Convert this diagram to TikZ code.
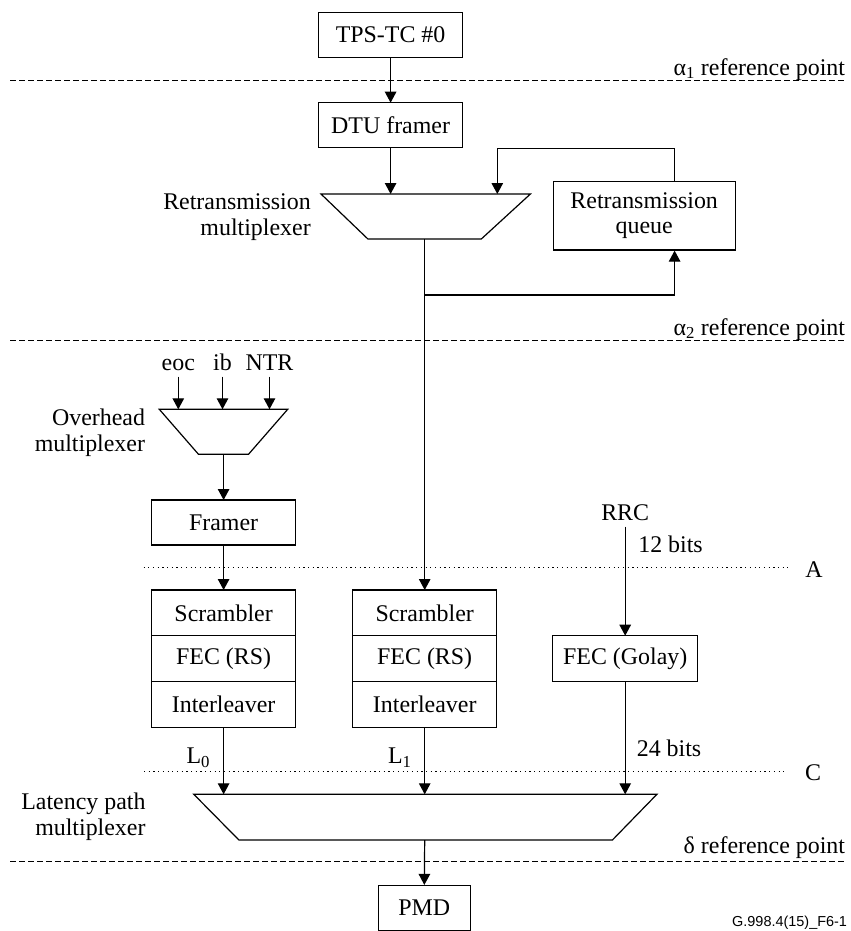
\documentclass[tikz,border=0pt]{standalone}
\usepackage{fontspec}
\setmainfont{Liberation Serif}
\newfontfamily\figsans{Liberation Sans}
\usetikzlibrary{arrows.meta}
\begin{document}
\begin{tikzpicture}[x=1bp,y=-1bp,
  line width=1.2bp,
  font=\fontsize{24}{25.5}\selectfont,
  box/.style={draw, minimum width=144bp, minimum height=45.7bp, inner sep=0pt, outer sep=0pt},
  arr/.style={-{Triangle[length=11bp,width=11.5bp]}},
  refline/.style={dash pattern=on 5.5bp off 3.5bp},
  dotline/.style={line width=1.1bp, dash pattern=on 1.2bp off 3.5bp},
  lbl/.style={inner sep=0pt, outer sep=0pt},
  mux/.style={draw, line join=miter}
]
\useasboundingbox (0,0) rectangle (851,931);

% ---- top part
\node[box, minimum height=45bp] (tps) at (390.6,34.8) {TPS-TC \#0};
\draw[refline] (10,80.7) -- (846,80.7);
\node[lbl, anchor=base east] (a1) at (845,75) {α\textsubscript{1} reference point};
\node[box, minimum height=45bp] (dtu) at (390.6,125.2) {DTU framer};
\draw[arr] (tps) -- (dtu);

% retransmission multiplexer
\coordinate (rmTL) at (321,194);
\coordinate (rmTR) at (530.4,194);
\coordinate (rmBR) at (481.3,239);
\coordinate (rmBL) at (367.9,239);
\coordinate (rmout) at (424.7,239);
\draw[mux] (rmTL) -- (rmTR) -- (rmBR) -- (rmBL) -- cycle;
\node[lbl, align=right, anchor=base east] (rmlbl) at (310.7,235) {Retransmission\\multiplexer};
\draw[arr] (dtu.south) -- (dtu.south |- rmTL);

% retransmission queue
\node[draw, minimum width=182bp, minimum height=68.3bp, inner sep=0pt, align=center] (queue) at (644.2,215.85) {Retransmission\\queue};
\coordinate (fbtop) at (674.6,148.3);
\coordinate (fbin) at (497.3,194);
\draw[arr] (queue.north -| fbtop) -- (fbtop) -| (fbin);
\coordinate (br) at (424.7,295);
\draw[arr] (br) -| (queue.south -| fbtop);

\draw[refline] (10,340.7) -- (846,340.7);
\node[lbl, anchor=base east] (a2) at (845,335) {α\textsubscript{2} reference point};

% ---- overhead
\node[lbl, anchor=base] (eoc) at (178.3,370) {eoc};
\node[lbl, anchor=base] (ib) at (222.5,370) {ib};
\node[lbl, anchor=base] (ntr) at (269.5,370) {NTR};
\coordinate (omTL) at (159.3,409.3);
\coordinate (omTR) at (287.7,409.3);
\coordinate (omBR) at (248.5,454.3);
\coordinate (omBL) at (198.5,454.3);
\coordinate (omout) at (223.6,454.3);
\draw[mux] (omTL) -- (omTR) -- (omBR) -- (omBL) -- cycle;
\draw[arr] ([yshift=-6.7bp]eoc.base) -- (eoc.base |- omTL);
\draw[arr] ([yshift=-6.7bp]ib.base) -- (ib.base |- omTL);
\draw[arr] ([yshift=-6.7bp]ntr.base) -- (ntr.base |- omTL);
\node[lbl, align=right, anchor=base east] (omlbl) at (145,451) {Overhead\\multiplexer};

\node[box, minimum height=45bp] (framer) at (223.6,522.5) {Framer};
\draw[arr] (omout) -- (framer.north);

% reference A
\draw[dotline] (143.5,567.7) -- (788,567.7);
\node[lbl, anchor=base] (alab) at (814,577) {A};

% ---- stacks
\node[box] (lscr) at (223.6,612.85) {Scrambler};
\node[box] (lfec) at (223.6,658.55) {FEC (RS)};
\node[box] (lint) at (223.6,704.25) {Interleaver};
\node[box] (mscr) at (424.7,612.85) {Scrambler};
\node[box] (mfec) at (424.7,658.55) {FEC (RS)};
\node[box] (mint) at (424.7,704.25) {Interleaver};
\node[box, minimum width=145bp] (golay) at (625.2,658.55) {FEC (Golay)};

\draw[arr] (framer.south) -- (lscr.north);
\draw (rmout) -- (br);
\draw[arr] (br) -- (mscr.north);

\node[lbl, anchor=base] (rrc) at (625.2,520) {RRC};
\node[lbl, anchor=base west] (b12) at (638.3,552.7) {12 bits};
\draw[arr] ([yshift=-6.7bp]rrc.base) -- (golay.north);

% reference C
\draw[dotline] (144,771.7) -- (787,771.7);
\node[lbl, anchor=base] (clab) at (813,780) {C};

% ---- latency path multiplexer
\coordinate (lmTL) at (193.8,794.3);
\coordinate (lmTR) at (656.9,794.3);
\coordinate (lmBR) at (612.4,840);
\coordinate (lmBL) at (238.9,840);
\coordinate (lmout) at (424.7,840);
\draw[mux] (lmTL) -- (lmTR) -- (lmBR) -- (lmBL) -- cycle;
\draw[arr] (lint.south) -- (lint.south |- lmTL);
\draw[arr] (mint.south) -- (mint.south |- lmTL);
\draw[arr] (golay.south) -- (golay.south |- lmTL);
\node[lbl, anchor=base east] (l0) at (210,763.3) {L\textsubscript{0}};
\node[lbl, anchor=base east] (l1) at (411.5,763.3) {L\textsubscript{1}};
\node[lbl, anchor=base west] (b24) at (636.8,756.7) {24 bits};
\node[lbl, align=right, anchor=base east] (lmlbl) at (145.5,835) {Latency path\\multiplexer};

\draw[refline] (10,861.7) -- (846,861.7);
\node[lbl, anchor=base east] (dl) at (845,853) {δ reference point};

\node[draw, minimum width=91.7bp, minimum height=44.6bp, inner sep=0pt] (pmd) at (424.3,907.8) {PMD};
\draw[arr] (lmout) -- (pmd.north);

\node[lbl, anchor=base east, font=\figsans\fontsize{14.5}{16}\selectfont] (fig) at (847,926.7) {G.998.4(15)\_F6-1};
\end{tikzpicture}
\end{document}
